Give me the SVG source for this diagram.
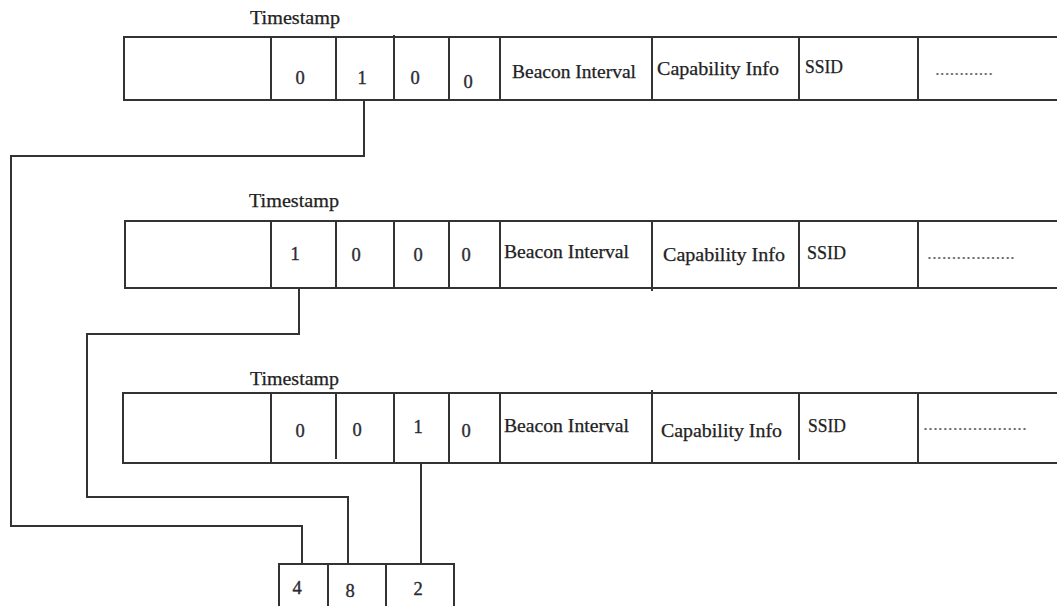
<svg xmlns="http://www.w3.org/2000/svg" width="1057" height="606" viewBox="0 0 1057 606">
<style>
.ln{stroke:#333;stroke-width:2;fill:none}
.t{font-family:"Liberation Serif","Times New Roman",serif;font-size:18px;fill:#222;stroke:#222;stroke-width:0.25}
.d{font-family:"Liberation Serif","Times New Roman",serif;font-size:18.5px;fill:#2a2a33;stroke:#2a2a33;stroke-width:0.35;text-anchor:middle}
.dots{font-family:"Liberation Serif","Times New Roman",serif;font-size:16px;fill:#666}
</style>
<rect width="1057" height="606" fill="#fff"/>

<g id="frame1">
<text class="t" x="250" y="24" textLength="90" lengthAdjust="spacingAndGlyphs">Timestamp</text>
<path class="ln" d="M1058 37H124V100H1058M271 37V100M336 37V100M394 35V100M449 37V100M500 37V100M652 37V100M799 37V100M918 37V100"/>
<text class="d" x="300" y="84">0</text>
<text class="d" x="362" y="84">1</text>
<text class="d" x="415" y="84">0</text>
<text class="d" x="468" y="88">0</text>
<text class="t" x="512" y="78" textLength="124" lengthAdjust="spacingAndGlyphs">Beacon Interval</text>
<text class="t" x="657" y="75" textLength="122" lengthAdjust="spacingAndGlyphs">Capability Info</text>
<text class="t" x="805" y="73" textLength="38" lengthAdjust="spacingAndGlyphs">SSID</text>
<text class="dots" x="935" y="75" textLength="58" lengthAdjust="spacingAndGlyphs">............</text>
</g>

<g id="frame2">
<text class="t" x="249" y="207" textLength="90" lengthAdjust="spacingAndGlyphs">Timestamp</text>
<path class="ln" d="M1058 221H125V288H1058M271 221V288M336 221V288M394 221V288M449 221V288M500 221V288M652 221V291M799 221V288M918 221V288"/>
<text class="d" x="295" y="260">1</text>
<text class="d" x="356" y="261">0</text>
<text class="d" x="418" y="261">0</text>
<text class="d" x="466" y="261">0</text>
<text class="t" x="504" y="258" textLength="125" lengthAdjust="spacingAndGlyphs">Beacon Interval</text>
<text class="t" x="663" y="261" textLength="122" lengthAdjust="spacingAndGlyphs">Capability Info</text>
<text class="t" x="807" y="259" textLength="39" lengthAdjust="spacingAndGlyphs">SSID</text>
<text class="dots" x="927" y="259" textLength="88" lengthAdjust="spacingAndGlyphs">..................</text>
</g>

<g id="frame3">
<text class="t" x="250" y="385" textLength="89" lengthAdjust="spacingAndGlyphs">Timestamp</text>
<path class="ln" d="M1058 393H123V463H1058M271 393V463M336 393V459M394 393V463M449 393V463M500 393V463M652 390V463M799 393V460M918 393V463"/>
<text class="d" x="300" y="437">0</text>
<text class="d" x="357" y="436">0</text>
<text class="d" x="418" y="433">1</text>
<text class="d" x="466" y="437">0</text>
<text class="t" x="504" y="432" textLength="125" lengthAdjust="spacingAndGlyphs">Beacon Interval</text>
<text class="t" x="661" y="437" textLength="121" lengthAdjust="spacingAndGlyphs">Capability Info</text>
<text class="t" x="808" y="432" textLength="38" lengthAdjust="spacingAndGlyphs">SSID</text>
<text class="dots" x="923" y="430" textLength="104" lengthAdjust="spacingAndGlyphs">.....................</text>
</g>

<g id="connectors">
<path class="ln" d="M364 100V156H11V526H302V564"/>
<path class="ln" d="M299 288V334H87V497H348V564"/>
<path class="ln" d="M421 463V564"/>
</g>

<g id="result">
<path class="ln" d="M279 607V564H454V607M328 564V607M386 564V607"/>
<text class="d" x="297" y="594">4</text>
<text class="d" x="350" y="597">8</text>
<text class="d" x="418" y="595">2</text>
</g>
</svg>
